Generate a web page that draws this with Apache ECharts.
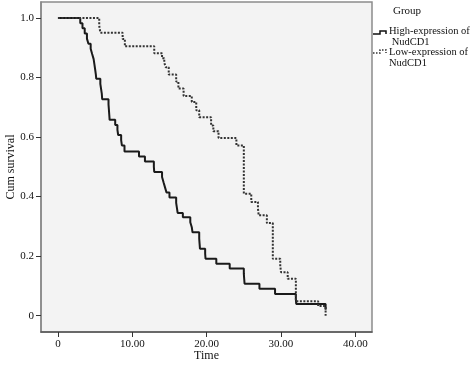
<!DOCTYPE html>
<html><head><meta charset="utf-8">
<script src="https://cdn.jsdelivr.net/npm/echarts@6/dist/echarts.min.js"></script>
<style>html,body{margin:0;padding:0;background:#fff}#c{width:474px;height:366px}</style>
</head><body><div id="c"></div>
<script>
// High-expression of NudCD1 (solid): event times and survival after each event
const highTime = [0,3.0,3.3,3.6,3.9,4.1,4.4,4.6,4.8,4.9,5.0,5.1,5.15,5.7,5.8,5.9,5.95,6.8,6.85,6.9,6.95,7.7,8.0,8.1,8.5,8.6,8.95,10.9,11.7,12.9,12.95,14.0,14.2,14.4,14.6,15.0,15.9,16.0,16.1,16.8,17.8,18.0,18.1,19.0,19.05,19.1,19.8,19.85,21.3,23.1,25.0,25.05,25.1,27.1,29.2,32.0,32.05,36.0];
const highSurv = [1.0,0.983,0.966,0.948,0.931,0.914,0.897,0.879,0.862,0.845,0.828,0.81,0.796,0.779,0.762,0.745,0.727,0.71,0.693,0.676,0.658,0.641,0.624,0.607,0.59,0.572,0.552,0.535,0.518,0.5,0.483,0.466,0.448,0.431,0.414,0.397,0.379,0.362,0.345,0.331,0.314,0.297,0.28,0.259,0.242,0.225,0.208,0.191,0.174,0.158,0.141,0.124,0.107,0.09,0.073,0.056,0.039,0.02];
// Low-expression of NudCD1 (dotted)
const lowTime = [0,5.55,5.7,8.7,9.0,12.95,14.0,14.3,14.5,14.9,15.9,16.2,16.9,18.0,18.6,19.0,20.6,20.9,21.6,24.0,25.0,26.0,26.9,27.0,28.1,28.9,29.9,30.0,30.9,32.0,35.0,36.0];
const lowSurv = [1.0,0.975,0.951,0.93,0.905,0.882,0.865,0.85,0.835,0.81,0.787,0.763,0.738,0.718,0.69,0.667,0.639,0.62,0.597,0.572,0.41,0.382,0.36,0.337,0.311,0.191,0.168,0.146,0.124,0.048,0.032,0.0];
const xTicks = [0,10,20,30,40];
const yTicks = [0,0.2,0.4,0.6,0.8,1.0];
const seriesNames = ['High-expression of NudCD1','Low-expression of NudCD1'];

const FONT = 'Liberation Serif';
const chart = echarts.init(document.getElementById('c'));
const zip = (a,b) => a.map((t,i)=>[t,b[i]]);
chart.setOption({
  animation:false,
  grid:{left:41,right:102,top:2,bottom:34,containLabel:false,outerBoundsMode:'none',show:true,backgroundColor:'#f3f3f3',borderColor:'#8c8c8c',borderWidth:1.5},
  xAxis:{type:'value',min:-2.28,max:42.24,name:'Time',nameLocation:'middle',nameGap:18,nameMoveOverlap:false,
    nameTextStyle:{fontFamily:FONT,fontSize:12,color:'#111'},
    axisLine:{show:true,onZero:false,lineStyle:{color:'#555',width:1.5}},
    axisTick:{show:true,length:5,customValues:xTicks,lineStyle:{color:'#333'}},
    axisLabel:{customValues:xTicks,margin:7,fontFamily:FONT,fontSize:11,color:'#111',
      formatter:v=>v===0?'0':v.toFixed(2)},
    splitLine:{show:false}},
  yAxis:{type:'value',min:-0.055,max:1.054,name:'Cum survival',nameLocation:'middle',nameGap:24,nameMoveOverlap:false,
    nameTextStyle:{fontFamily:FONT,fontSize:12,color:'#111'},
    axisLine:{show:true,onZero:false,lineStyle:{color:'#888',width:1.5}},
    axisTick:{show:true,length:5,customValues:yTicks,lineStyle:{color:'#333'}},
    axisLabel:{customValues:yTicks,margin:7,fontFamily:FONT,fontSize:11,color:'#111',
      formatter:v=>v===0?'0':v.toFixed(1)},
    splitLine:{show:false}},
  series:[
    {name:seriesNames[0],type:'line',step:'end',showSymbol:false,data:zip(highTime,highSurv),
     lineStyle:{color:'#1a1a1a',width:2}},
    {name:seriesNames[1],type:'line',step:'end',showSymbol:false,data:zip(lowTime,lowSurv),
     lineStyle:{color:'#333',width:2,type:[2,1.5]}}
  ],
  graphic:[
    {type:'text',left:393,top:6,style:{text:'Group',fontFamily:FONT,fontSize:11,fill:'#111'}},
    {type:'polyline',shape:{points:[[373,34],[380,34],[380,31],[386,31],[386,34]]},style:{stroke:'#111',lineWidth:1.5,fill:null}},
    {type:'text',left:389,top:26,style:{text:'High-expression of\n NudCD1',fontFamily:FONT,fontSize:10.5,lineHeight:10.5,fill:'#111'}},
    {type:'polyline',shape:{points:[[373,53],[380,53],[380,50],[386,50],[386,53]]},style:{stroke:'#333',lineWidth:1.5,fill:null,lineDash:[1.5,1.5]}},
    {type:'text',left:389,top:47,style:{text:'Low-expression of\nNudCD1',fontFamily:FONT,fontSize:10.5,lineHeight:10.5,fill:'#111'}}
  ]
});
</script></body></html>
